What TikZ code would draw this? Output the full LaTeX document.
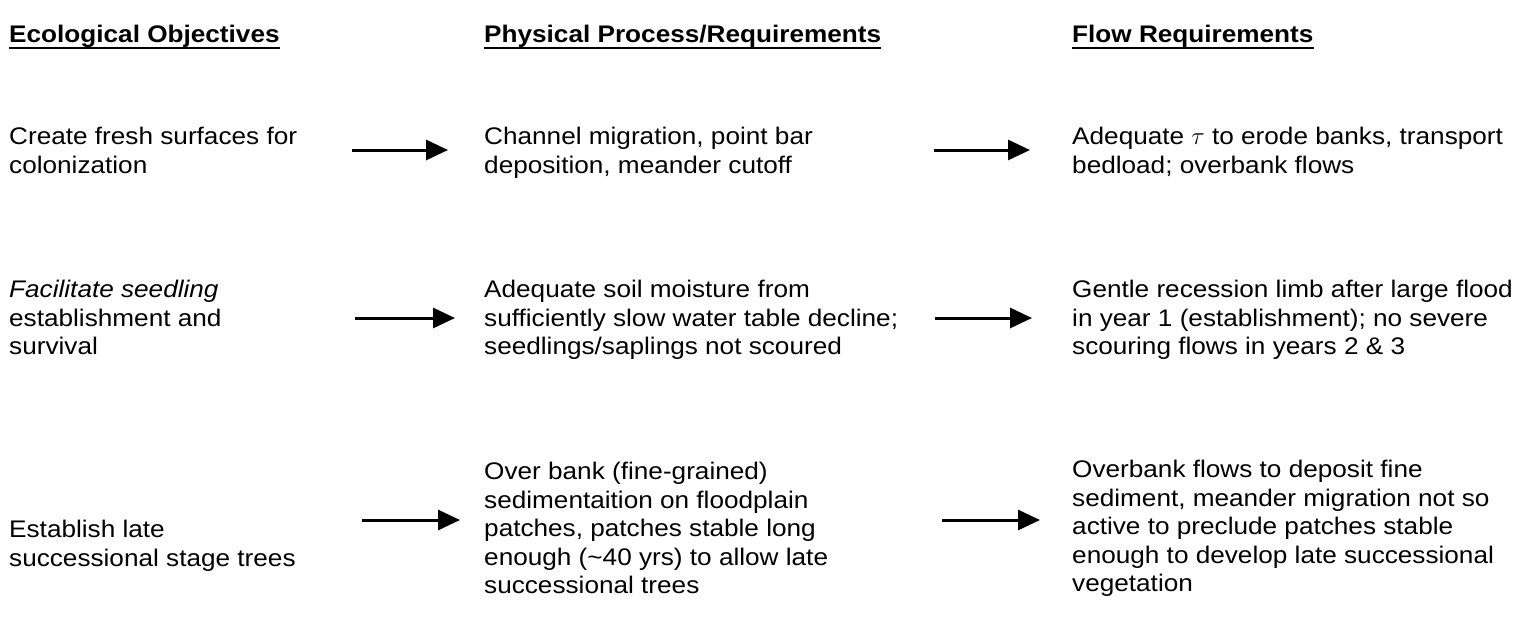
\documentclass[tikz,border=0pt]{standalone}
\usepackage{fontspec}
\setmainfont[FakeStretch=1.09]{Liberation Sans}
\usetikzlibrary{arrows.meta}

\begin{document}
\begin{tikzpicture}[%
        x = 1pt, y = -1pt,
        every node/.style = {%
            inner sep = 0pt,
            anchor = north west,
            align = left,
            font = \fontsize{24}{28.5}\selectfont
        },
        head/.style = {%
            anchor = base west,
            font = \fontsize{24}{28.5}\selectfont\bfseries
        },
        uline/.style = {line width = 2pt},
        flow/.style = {%
            line width = 3pt,
            -{Triangle[length = 22pt, width = 20pt]}
        }
    ]

        \useasboundingbox (0,0) rectangle (1521,627);

        % The column headings.
        \node[head] (eco) at (9,42) {Ecological Objectives};
        \node[head] (phys) at (484,42) {Physical Process/Requirements};
        \node[head] (flowreq) at (1072,42) {Flow Requirements};

        % Underlines for the headings.
        \foreach\h in {eco, phys, flowreq}{%
            \draw[uline] ([yshift = -6pt]\h.base west) -- ([yshift = -6pt]\h.base east);
        }

        % First row: fresh surfaces.
        \node (obj1) at (9,127) {Create fresh surfaces for\\colonization};
        \node (proc1) at (484,127) {Channel migration, point bar\\deposition, meander cutoff};
        \node (req1) at (1072,127) {Adequate $\tau$ to erode banks, transport\\bedload; overbank flows};

        % Second row: seedlings.
        \node (obj2) at (9,280) {\textit{Facilitate seedling}\\establishment and\\survival};
        \node (proc2) at (484,280) {Adequate soil moisture from\\sufficiently slow water table decline;\\seedlings/saplings not scoured};
        \node (req2) at (1072,280) {Gentle recession limb after large flood\\in year 1 (establishment); no severe\\scouring flows in years 2 \& 3};

        % Third row: late successional trees.
        \node (obj3) at (9,520) {Establish late\\successional stage trees};
        \node (proc3) at (484,462) {Over bank (fine-grained)\\sedimentaition on floodplain\\patches, patches stable long\\enough (\textasciitilde 40 yrs) to allow late\\successional trees};
        \node (req3) at (1072,460) {Overbank flows to deposit fine\\sediment, meander migration not so\\active to preclude patches stable\\enough to develop late successional\\vegetation};

        % The ends of the arrows.
        \coordinate (a1) at (352,150);
        \coordinate (b1) at (448,150);
        \coordinate (c1) at (934,150);
        \coordinate (d1) at (1030,150);
        \coordinate (a2) at (355,318);
        \coordinate (b2) at (455,318);
        \coordinate (c2) at (935,318);
        \coordinate (d2) at (1032,318);
        \coordinate (a3) at (362,520);
        \coordinate (b3) at (460,520);
        \coordinate (c3) at (942,520);
        \coordinate (d3) at (1040,520);

        % Arrows from each column to the next.
        \foreach\i in {1, 2, 3}{%
            \draw[flow] (a\i) -- (b\i);
            \draw[flow] (c\i) -- (d\i);
        }
    \end{tikzpicture}
\end{document}
